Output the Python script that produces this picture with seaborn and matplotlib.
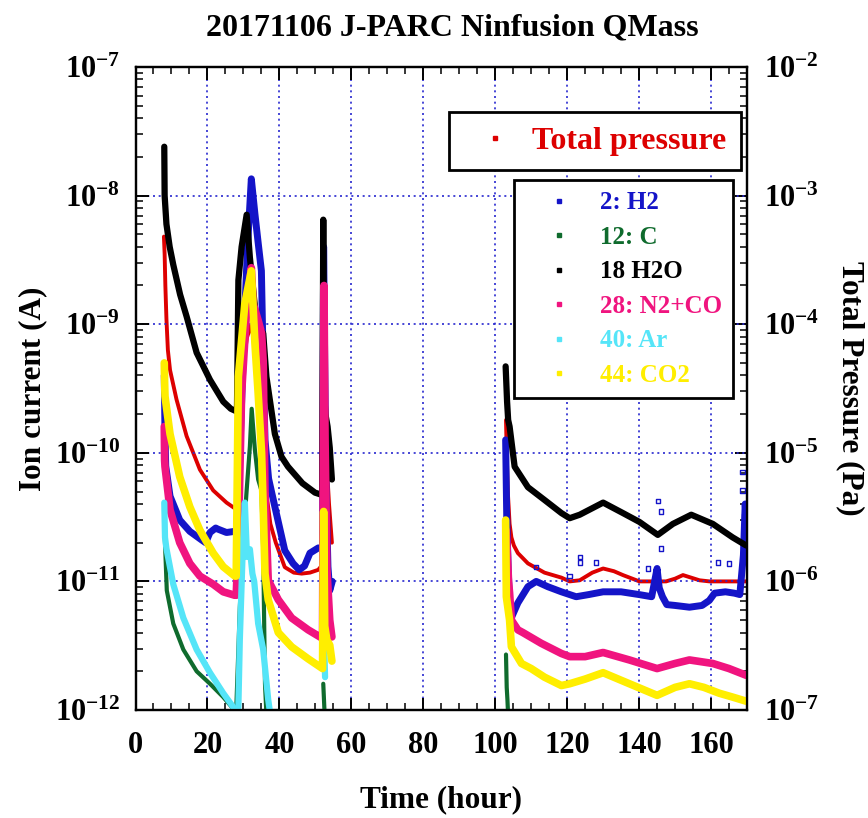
import numpy as np
import pandas as pd
import matplotlib
matplotlib.use("Agg")
import matplotlib.pyplot as plt
import seaborn as sns
from matplotlib.lines import Line2D
from matplotlib.ticker import MultipleLocator, LogLocator, FuncFormatter, NullFormatter

# ---------------- data ----------------
H2_TIME = [
    [8.0, 8.2, 8.4, 9.6, 12.3, 15.1, 18.4, 19.5, 20.7, 22.3, 22.9, 25.3, 27.6],
    [28.0, 28.6, 29.0, 30.4, 31.2, 32.2, 33.2, 34.1, 35.0, 35.5, 36.0, 37.0, 38.75, 41.5, 43.8,
     45.5, 47.0, 48.5, 50.8, 52.0, 52.3, 52.6, 53.0, 53.5, 54.0, 54.7],
    [102.9, 103.2, 103.6, 104.2, 106.3, 109.1, 111.4, 114.6, 118.4, 122.5, 126.0, 130.0, 135.0,
     140.0, 143.5, 145.0, 145.6, 146.5, 147.7, 150.0, 154.0, 157.5, 159.5, 161.0, 164.0, 166.5,
     168.0, 169.0, 169.5, 170.0],
]
H2_ION = [
    [4.0e-10, 1.4e-10, 7.9e-11, 4.6e-11, 3.0e-11, 2.45e-11, 2.1e-11, 2.0e-11, 2.4e-11, 2.6e-11,
     2.55e-11, 2.4e-11, 2.45e-11],
    [2.45e-11, 4.0e-11, 1.0e-10, 1.3e-9, 4.3e-9, 1.35e-8, 7.2e-9, 4.3e-9, 2.6e-9, 5.0e-10,
     1.26e-10, 6.3e-11, 3.8e-11, 1.74e-11, 1.38e-11, 1.23e-11, 1.32e-11, 1.66e-11, 1.82e-11,
     1.82e-11, 4.0e-9, 5.0e-10, 5.0e-11, 1.3e-11, 8.5e-12, 1.0e-11],
    [1.26e-10, 3.2e-11, 1.26e-11, 5.0e-12, 6.8e-12, 9.1e-12, 1.0e-11, 9.1e-12, 8.3e-12, 7.6e-12,
     7.9e-12, 8.3e-12, 8.3e-12, 7.9e-12, 7.6e-12, 1.26e-11, 8.9e-12, 7.6e-12, 6.6e-12, 6.5e-12,
     6.3e-12, 6.5e-12, 7.1e-12, 8.1e-12, 8.3e-12, 8.1e-12, 7.9e-12, 1.6e-11, 4.0e-11, 2.5e-11],
]
H2_OUT_TIME = [111.4, 120.7, 123.5, 123.5, 128.1, 142.5, 145.2, 146.1, 146.1, 161.9, 165.0,
               168.8, 168.8, 169.2]
H2_OUT_ION = [1.3e-11, 1.1e-11, 1.55e-11, 1.4e-11, 1.4e-11, 1.26e-11, 4.2e-11, 3.5e-11,
              1.8e-11, 1.4e-11, 1.38e-11, 7.1e-11, 5.1e-11, 3.2e-11]

C_TIME = [
    [8.0, 8.2, 8.7, 10.5, 13.3, 17.0, 20.7, 24.4, 27.2, 28.0],
    [28.0, 28.6, 29.0, 29.95, 30.9, 31.8, 32.3, 33.2, 34.1, 35.0, 35.5, 36.0, 36.5],
    [52.2, 52.4, 52.6],
    [103.0, 103.2, 103.4, 103.6],
]
C_ION = [
    [2.8e-11, 2.0e-11, 8.5e-12, 4.7e-12, 2.95e-12, 2.0e-12, 1.6e-12, 1.26e-12, 1.02e-12, 9e-13],
    [1.0e-12, 2.95e-12, 6.3e-12, 2.1e-11, 5.1e-11, 1.12e-10, 2.2e-10, 1.05e-10, 6.2e-11, 5.1e-11,
     1.74e-11, 1.6e-12, 8e-13],
    [1.6e-12, 1.2e-12, 9e-13],
    [2.7e-12, 1.5e-12, 1.2e-12, 9e-13],
]

H2O_TIME = [
    [8.0, 8.1, 8.6, 9.5, 10.5, 12.4, 14.2, 17.0, 20.7, 24.4, 26.5, 28.1],
    [28.2, 28.6, 29.5, 30.9, 31.8, 33.7, 35.5, 36.4, 38.75, 40.6, 42.4, 46.4, 49.9, 51.9,
     52.2, 52.4, 52.8, 53.4, 54.0, 54.6],
    [102.9, 103.3, 103.6, 104.0, 105.4, 109.1, 113.7, 118.4, 120.7, 123.5, 130.0, 135.5, 140.1,
     145.2, 149.4, 154.5, 160.5, 166.0, 169.8],
]
H2O_ION = [
    [2.4e-8, 1.0e-8, 6.0e-9, 4.0e-9, 2.9e-9, 1.7e-9, 1.15e-9, 6.0e-10, 3.7e-10, 2.5e-10, 2.2e-10,
     2.1e-10],
    [2.1e-10, 2.2e-9, 4.0e-9, 7.1e-9, 3.3e-9, 1.0e-9, 8.5e-10, 3.9e-10, 1.4e-10, 9.3e-11, 7.8e-11,
     5.8e-11, 4.9e-11, 4.7e-11, 6.5e-9, 3.0e-10, 2.0e-10, 1.6e-10, 1.1e-10, 6.2e-11],
    [4.7e-10, 2.5e-10, 1.8e-10, 1.6e-10, 7.8e-11, 5.4e-11, 4.3e-11, 3.4e-11, 3.1e-11, 3.3e-11,
     4.1e-11, 3.4e-11, 2.9e-11, 2.3e-11, 2.8e-11, 3.3e-11, 2.8e-11, 2.2e-11, 1.9e-11],
]

N2CO_TIME = [
    [8.0, 8.1, 8.2, 9.6, 12.3, 15.1, 17.9, 21.6, 24.4, 27.6],
    [28.0, 28.6, 29.5, 30.9, 32.2, 32.7, 34.1, 35.05, 35.5, 36.0, 36.9, 39.7, 43.4, 48.0, 52.0,
     52.4, 52.7, 53.2, 54.0, 54.6],
    [103.0, 103.3, 103.7, 104.0, 104.5, 106.3, 107.7, 112.8, 118.4, 120.7, 125.0, 130.0, 137.3,
     145.0, 150.0, 154.0, 160.5, 165.0, 169.8],
]
N2CO_ION = [
    [1.6e-10, 8.7e-11, 7.8e-11, 3.6e-11, 2.0e-11, 1.38e-11, 1.1e-11, 9.5e-12, 8.3e-12, 7.8e-12],
    [7.8e-12, 2.1e-11, 2.9e-10, 1.3e-9, 2.75e-9, 1.45e-9, 1.07e-9, 8.5e-10, 5.2e-10, 5.0e-11,
     1.02e-11, 7.2e-12, 5.2e-12, 4.2e-12, 3.6e-12, 2.0e-9, 1.26e-10, 1.26e-11, 5.0e-12, 3.7e-12],
    [2.5e-11, 1.86e-11, 1.0e-11, 8.1e-12, 5.0e-12, 4.2e-12, 4.0e-12, 3.3e-12, 2.75e-12, 2.6e-12,
     2.6e-12, 2.8e-12, 2.45e-12, 2.1e-12, 2.3e-12, 2.45e-12, 2.3e-12, 2.1e-12, 1.86e-12],
]

AR_TIME = [
    [8.0, 8.2, 8.6, 10.5, 13.3, 17.0, 20.7, 24.4, 27.2, 28.0],
    [28.0, 28.6, 29.0, 29.9, 30.4, 31.0, 31.8, 32.5, 33.0, 34.1, 35.5, 36.9, 37.8],
    [52.3, 52.5, 52.7],
]
AR_ION = [
    [4.1e-11, 2.2e-11, 1.8e-11, 9.5e-12, 5.2e-12, 2.95e-12, 1.95e-12, 1.35e-12, 1.05e-12, 8e-13],
    [1.0e-12, 1.05e-12, 3.5e-12, 2.1e-11, 4.1e-11, 1.55e-11, 1.78e-11, 1.15e-11, 1.0e-11, 4.7e-12,
     2.95e-12, 1.2e-12, 8e-13],
    [8e-12, 3e-12, 1.8e-12],
]

CO2_TIME = [
    [8.0, 8.1, 8.2, 9.6, 12.3, 15.1, 17.9, 21.6, 24.4, 27.6],
    [28.0, 28.6, 30.4, 32.2, 33.2, 34.1, 35.05, 35.5, 36.0, 36.9, 39.7, 43.4, 48.0, 52.0, 52.3,
     52.6, 53.2, 54.0, 54.6],
    [102.9, 103.1, 104.0, 104.5, 107.3, 110.0, 113.7, 118.4, 120.7, 125.0, 130.0, 137.3, 145.0,
     150.0, 154.0, 158.0, 162.3, 166.0, 169.8],
]
CO2_ION = [
    [5.0e-10, 3.5e-10, 2.75e-10, 1.4e-10, 6.5e-11, 3.8e-11, 2.5e-11, 1.66e-11, 1.3e-11, 1.1e-11],
    [1.1e-11, 3.9e-10, 1.45e-9, 2.6e-9, 7.1e-10, 2.9e-10, 1.0e-10, 3.8e-11, 1.15e-11, 7.2e-12,
     4.0e-12, 3.1e-12, 2.5e-12, 2.1e-12, 3.5e-11, 4.5e-12, 3.5e-12, 3.2e-12, 2.4e-12],
    [3.0e-11, 7.6e-12, 5.0e-12, 3.1e-12, 2.3e-12, 2.1e-12, 1.8e-12, 1.55e-12, 1.6e-12, 1.74e-12,
     1.95e-12, 1.6e-12, 1.3e-12, 1.5e-12, 1.6e-12, 1.5e-12, 1.35e-12, 1.26e-12, 1.17e-12],
]

TP_TIME = [
    [7.9, 8.1, 8.3, 8.6, 9.0, 9.6, 11.4, 14.2, 17.9, 21.6, 25.3, 27.6],
    [28.0, 28.4, 29.0, 30.0, 31.0, 32.2, 33.0, 34.0, 35.0, 35.6, 36.3, 37.5, 39.0, 41.5, 44.0,
     46.2, 48.5, 50.8, 52.0, 52.2, 52.4, 52.7, 53.2, 53.8, 54.6],
    [103.0, 103.2, 103.5, 104.0, 104.5, 105.2, 106.3, 109.1, 113.7, 118.4, 120.7, 123.5, 127.0,
     130.0, 133.0, 135.5, 140.1, 147.5, 150.0, 152.2, 156.8, 159.6, 170.0],
]
TP_PA = [
    [4.8e-4, 3.5e-4, 2.0e-4, 1.1e-4, 6.3e-5, 4.4e-5, 2.6e-5, 1.35e-5, 7.4e-6, 5.1e-6, 4.1e-6,
     3.7e-6],
    [3.7e-6, 1.0e-5, 2.5e-5, 5.0e-5, 7.9e-5, 1.0e-4, 7.1e-5, 4.5e-5, 2.9e-5, 1.26e-5, 5.0e-6,
     2.8e-6, 2.0e-6, 1.29e-6, 1.17e-6, 1.15e-6, 1.17e-6, 1.23e-6, 1.35e-6, 1.35e-6, 2.2e-4,
     3.2e-5, 7.9e-6, 4.0e-6, 2.0e-6],
    [1.8e-5, 1.0e-5, 5.0e-6, 2.8e-6, 2.2e-6, 1.9e-6, 1.66e-6, 1.38e-6, 1.17e-6, 1.07e-6, 1.0e-6,
     1.02e-6, 1.17e-6, 1.26e-6, 1.2e-6, 1.12e-6, 1.0e-6, 1.0e-6, 1.05e-6, 1.12e-6, 1.02e-6,
     1.0e-6, 1.0e-6],
]

SERIES = ["2: H2", "12: C", "18 H2O", "28: N2+CO", "40: Ar", "44: CO2"]
COLORS = ["#1414C8", "#0F6B2D", "#000000", "#F0147F", "#55E5F8", "#FFEE00"]
TP_LABEL = "Total pressure"
TP_COLOR = "#DD0000"

TITLE = "20171106 J-PARC Ninfusion QMass"
XLABEL = "Time (hour)"
YLABEL = "Ion current (A)"
Y2LABEL = "Total Pressure (Pa)"


def long_frame(name, times, values):
    rows = []
    for k, (tt, vv) in enumerate(zip(times, values)):
        for t, v in zip(tt, vv):
            rows.append({"series": name, "seg": k, "t": t, "v": v})
    return pd.DataFrame(rows)


ion_data = [(H2_TIME, H2_ION), (C_TIME, C_ION), (H2O_TIME, H2O_ION),
            (N2CO_TIME, N2CO_ION), (AR_TIME, AR_ION), (CO2_TIME, CO2_ION)]
widths = [5.0, 3.0, 4.5, 5.5, 4.5, 5.5]

# ---------------- style ----------------
sns.set_style("ticks")
plt.rcParams["font.family"] = ["Liberation Serif", "DejaVu Serif"]
plt.rcParams["font.weight"] = "bold"
plt.rcParams["text.color"] = "black"
plt.rcParams["axes.labelcolor"] = "black"
plt.rcParams["xtick.color"] = "black"
plt.rcParams["ytick.color"] = "black"
plt.rcParams["axes.edgecolor"] = "black"
plt.rcParams["mathtext.fontset"] = "custom"
plt.rcParams["mathtext.rm"] = "Liberation Serif"
plt.rcParams["mathtext.bf"] = "Liberation Serif:bold"

fig = plt.figure(figsize=(8.68, 8.18), dpi=100)
ax = fig.add_axes([135.5 / 868, 1 - 710 / 818, 611.5 / 868, 643 / 818])
ax2 = ax.twinx()
ax.set_zorder(2)
ax2.set_zorder(1)
ax.patch.set_visible(False)

ax.set_yscale("log")
ax2.set_yscale("log")

# total pressure on the right axis (drawn beneath the ion currents)
tp_df = long_frame(TP_LABEL, TP_TIME, TP_PA)
sns.lineplot(data=tp_df, x="t", y="v", units="seg", estimator=None, sort=False,
             color=TP_COLOR, linewidth=2.8, ax=ax2, legend=False)
ax2.set_xlabel("")

for name, (tt, vv), c, lw in zip(SERIES, ion_data, COLORS, widths):
    df = long_frame(name, tt, vv)
    sns.lineplot(data=df, x="t", y="v", units="seg", estimator=None, sort=False,
                 color=c, linewidth=lw, ax=ax, legend=False, solid_joinstyle="round")

out_df = pd.DataFrame({"t": H2_OUT_TIME, "v": H2_OUT_ION})
sns.scatterplot(data=out_df, x="t", y="v", ax=ax, marker="s", s=10, color="none",
                edgecolor=COLORS[0], linewidth=1.0, legend=False)

ax.set_xlim(0, 170)
ax.set_ylim(1e-12, 1e-7)
ax2.set_ylim(1e-7, 1e-2)

fmt = FuncFormatter(lambda v, p: r"$\mathbf{10^{%d}}$" % int(round(np.log10(v))))
for a in (ax, ax2):
    a.yaxis.set_major_locator(LogLocator(base=10, numticks=12))
    a.yaxis.set_minor_locator(LogLocator(base=10, subs=np.arange(2, 10), numticks=12))
    a.yaxis.set_minor_formatter(NullFormatter())
    a.yaxis.set_major_formatter(fmt)
    for s in a.spines.values():
        s.set_linewidth(1.6)
        s.set_color("black")

ax.xaxis.set_major_locator(MultipleLocator(20))
ax.xaxis.set_minor_locator(MultipleLocator(5))

ax.grid(True, which="major", color="#2828D0", linestyle=(0, (1.2, 2.2)), linewidth=1.2)

ax.tick_params(axis="both", which="both", direction="in", top=True, right=False, colors="black")
ax.tick_params(axis="both", which="major", length=9, width=1.4, labelsize=22)
ax.tick_params(axis="both", which="minor", length=5, width=1.1)
ax.tick_params(axis="x", which="major", pad=15)
ax.tick_params(axis="y", which="major", pad=11)
ax2.tick_params(axis="y", which="both", direction="in", colors="black")
ax2.tick_params(axis="y", which="major", length=9, width=1.4, labelsize=22, pad=12)
ax2.tick_params(axis="y", which="minor", length=5, width=1.1)

ax.set_xlabel(XLABEL, fontsize=22.5, fontweight="bold", color="black")
ax.xaxis.set_label_coords(0.5, -0.117)
ax.set_ylabel(YLABEL, fontsize=22.5, fontweight="bold", color="black")
ax.yaxis.set_label_coords(-0.145, 0.5)
ax2.set_ylabel(Y2LABEL, fontsize=22.5, fontweight="bold", rotation=270, va="bottom",
               color="black")
ax2.yaxis.set_label_coords(1.1455, 0.5)

fig.text(452 / 868, 1 - 35 / 818, TITLE, ha="center", va="baseline",
         fontsize=23, fontweight="bold", color="black")

# legends
h_tp = [Line2D([0], [0], marker="s", markersize=2.2, linestyle="none", color=TP_COLOR)]
leg1 = ax.legend(handles=h_tp, labels=[TP_LABEL], loc="upper right",
                 bbox_to_anchor=(741 / 868, 1 - 112 / 818), bbox_transform=fig.transFigure,
                 prop={"weight": "bold", "size": 23}, labelcolor=[TP_COLOR],
                 frameon=True, fancybox=False, framealpha=1, borderpad=0.45,
                 handlelength=2.0, handletextpad=0.16, borderaxespad=0)
leg1.get_frame().set_edgecolor("black")
leg1.get_frame().set_linewidth(2)
ax.add_artist(leg1)

h_ion = [Line2D([0], [0], marker="s", markersize=2.2, linestyle="none", color=c) for c in COLORS]
leg2 = ax.legend(handles=h_ion, labels=SERIES, loc="upper right",
                 bbox_to_anchor=(733 / 868, 1 - 180 / 818), bbox_transform=fig.transFigure,
                 prop={"weight": "bold", "size": 18}, labelcolor=COLORS,
                 frameon=True, fancybox=False, framealpha=1, borderpad=0.45,
                 handlelength=2.7, handletextpad=0.26, labelspacing=0.46, borderaxespad=0)
leg2.get_frame().set_edgecolor("black")
leg2.get_frame().set_linewidth(2)

fig.savefig("out.png", dpi=100)
